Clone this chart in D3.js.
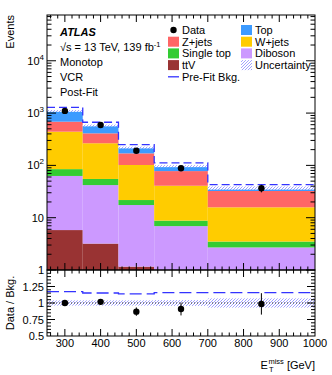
<!DOCTYPE html>
<html>
<head>
<meta charset="utf-8">
<script src="https://cdn.jsdelivr.net/npm/d3@7"></script>
<style>
  body { margin: 0; background: #fff; }
  svg { font-family: "Liberation Sans", Arial, sans-serif; }
</style>
</head>
<body>
<svg width="332" height="375"></svg>
<script>
// bins in ETmiss [GeV]
const binEdges = [250, 350, 450, 550, 700, 1000]
const binCentres = [300, 400, 500, 625, 850]

// post-fit backgrounds per bin (stacked bottom -> top)
const ttV = [5.8, 3.2, 1.16, 0.5, 0.3]
const diboson = [57, 38.8, 16.3, 6.4, 2.4]
const singleTop = [22, 13, 4.3, 1.9, 0.8]
const wjets = [356, 210, 80, 32, 12.3]
const zjets = [244, 145, 68, 37, 16.6]
const topQuark = [415, 170, 50, 19, 4.6]

const dataVals = [1100, 590, 191, 88, 36.5]
const dataErr = [33, 24, 14, 9.4, 6]
const preFit = [1290, 668, 250, 112, 42.8]
const relUnc = [0.04, 0.04, 0.04, 0.045, 0.07]

const yMajor = [1, 10, 100, 1000, 10000]
const ratioTicks = [0.5, 0.75, 1, 1.25]
const xTicks = [300, 400, 500, 600, 700, 800, 900, 1000]

const seriesNames = ['ttV', 'Diboson', 'Single top', 'W+jets', 'Z+jets', 'Top']
const seriesVals = [ttV, diboson, singleTop, wjets, zjets, topQuark]
const colors = {
  'Top': '#3d9bff', 'Z+jets': '#ff6666', 'W+jets': '#ffcc00',
  'Single top': '#33cc33', 'Diboson': '#cc99ff', 'ttV': '#993333'
}
const lineBlue = '#3333ff'

const svg = d3.select('svg')
const L = 47, R = 315, T = 15, MB = 270, RB = 336

const x = d3.scaleLinear().domain([250, 1000]).range([L, R])
const y = d3.scaleLog().domain([1, 7.5e4]).range([MB, T])
const yr = d3.scaleLinear().domain([0.5, 1.5]).range([RB, MB])

const bins = binCentres.map((c, i) => {
  const row = {lo: binEdges[i], hi: binEdges[i + 1], c}
  seriesNames.forEach((n, k) => { row[n] = seriesVals[k][i] })
  row.total = d3.sum(seriesVals, s => s[i])
  return row
})

// hatch pattern
const defs = svg.append('defs')
const pat = defs.append('pattern').attr('id', 'hatch')
  .attr('patternUnits', 'userSpaceOnUse').attr('width', 3).attr('height', 3)
pat.append('rect').attr('width', 3).attr('height', 3).attr('fill', '#fff')
pat.append('path').attr('d', 'M-1,1 l2,-2 M0,3 l3,-3 M2,4 l2,-2')
  .attr('stroke', '#8a8aff').attr('stroke-width', 0.8)
defs.append('clipPath').attr('id', 'clipMain').append('rect')
  .attr('x', L).attr('y', T).attr('width', R - L).attr('height', MB - T)
defs.append('clipPath').attr('id', 'clipRatio').append('rect')
  .attr('x', L).attr('y', MB).attr('width', R - L).attr('height', RB - MB)

// ---- main panel
const main = svg.append('g').attr('clip-path', 'url(#clipMain)')
const stack = d3.stack().keys(seriesNames)(bins)
main.selectAll('g.layer').data(stack).join('g')
  .attr('fill', d => colors[d.key])
  .selectAll('rect').data(d => d).join('rect')
  .attr('x', d => x(d.data.lo))
  .attr('width', d => x(d.data.hi) - x(d.data.lo))
  .attr('y', d => y(Math.max(d[1], 0.01)))
  .attr('height', d => y(Math.max(d[0], 0.01)) - y(Math.max(d[1], 0.01)))

main.selectAll('rect.unc').data(bins).join('rect')
  .attr('x', d => x(d.lo)).attr('width', d => x(d.hi) - x(d.lo))
  .attr('y', (d, i) => y(d.total * (1 + relUnc[i])))
  .attr('height', (d, i) => y(d.total * (1 - relUnc[i])) - y(d.total * (1 + relUnc[i])))
  .attr('fill', 'url(#hatch)')

const stepPts = vals => bins.flatMap((b, i) => [[b.lo, vals[i]], [b.hi, vals[i]]])
main.append('path')
  .attr('d', d3.line().x(d => x(d[0])).y(d => y(d[1]))(stepPts(preFit)))
  .attr('fill', 'none').attr('stroke', lineBlue).attr('stroke-width', 1.3)
  .attr('stroke-dasharray', '8,4')

main.selectAll('line.err').data(bins).join('line')
  .attr('x1', d => x(d.c)).attr('x2', d => x(d.c))
  .attr('y1', (d, i) => y(dataVals[i] + dataErr[i]))
  .attr('y2', (d, i) => y(dataVals[i] - dataErr[i]))
  .attr('stroke', '#000')
main.selectAll('circle.data').data(bins).join('circle')
  .attr('cx', d => x(d.c)).attr('cy', (d, i) => y(dataVals[i])).attr('r', 3.2)

// ---- ratio panel
const rat = svg.append('g').attr('clip-path', 'url(#clipRatio)')
rat.selectAll('rect.unc').data(bins).join('rect')
  .attr('x', d => x(d.lo)).attr('width', d => x(d.hi) - x(d.lo))
  .attr('y', (d, i) => yr(1 + relUnc[i]))
  .attr('height', (d, i) => yr(1 - relUnc[i]) - yr(1 + relUnc[i]))
  .attr('fill', 'url(#hatch)')
rat.append('line').attr('x1', L).attr('x2', R).attr('y1', yr(1)).attr('y2', yr(1))
  .attr('stroke', '#333').attr('stroke-dasharray', '1,2')
rat.append('path')
  .attr('d', d3.line().x(d => x(d[0])).y(d => yr(d[1]))(stepPts(preFit.map((v, i) => v / bins[i].total))))
  .attr('fill', 'none').attr('stroke', lineBlue).attr('stroke-width', 1.3)
  .attr('stroke-dasharray', '12,5')
rat.selectAll('line.err').data(bins).join('line')
  .attr('x1', d => x(d.c)).attr('x2', d => x(d.c))
  .attr('y1', (d, i) => yr((dataVals[i] + dataErr[i]) / d.total))
  .attr('y2', (d, i) => yr((dataVals[i] - dataErr[i]) / d.total))
  .attr('stroke', '#000')
rat.selectAll('circle').data(bins).join('circle')
  .attr('cx', d => x(d.c)).attr('cy', (d, i) => yr(dataVals[i] / d.total)).attr('r', 3.2)

// ---- frames and ticks
const axes = svg.append('g').attr('stroke', '#000').attr('fill', 'none')
axes.append('rect').attr('x', L).attr('y', T).attr('width', R - L).attr('height', MB - T)
axes.append('rect').attr('x', L).attr('y', MB).attr('width', R - L).attr('height', RB - MB)

const xMinor = d3.range(260, 1000, 20)
const tick = (x1, y1, x2, y2) => axes.append('line')
  .attr('x1', x1).attr('y1', y1).attr('x2', x2).attr('y2', y2)
;[[T, 1], [MB, -1], [MB, 1], [RB, -1]].forEach(([yy, dir]) => {
  xMinor.forEach(v => {
    const len = xTicks.includes(v) ? 7 : 3.5
    tick(x(v), yy, x(v), yy + dir * len)
  })
})

y.ticks().forEach(v => {
  const major = yMajor.includes(v)
  const len = major ? 9 : 4.5
  tick(L, y(v), L + len, y(v))
  tick(R, y(v), R - len, y(v))
})
d3.range(0.55, 1.5, 0.05).forEach(v => {
  const major = Math.abs(v * 4 - Math.round(v * 4)) < 1e-6
  const len = major ? 8 : 4
  tick(L, yr(v), L + len, yr(v))
  tick(R, yr(v), R - len, yr(v))
})

// ---- labels
const txt = svg.append('g').attr('font-size', 11).attr('fill', '#000')
yMajor.forEach(v => {
  const t = txt.append('text').attr('x', L - 3).attr('y', y(v) + 4).attr('text-anchor', 'end')
  if (v < 100) t.text(v)
  else {
    t.append('tspan').text('10')
    t.append('tspan').attr('dy', -5).attr('font-size', 8).text(Math.log10(v))
  }
})
ratioTicks.forEach(v => {
  txt.append('text').attr('x', L - 3).attr('y', yr(v) + 4).attr('text-anchor', 'end').text(v)
})
xTicks.forEach(v => {
  txt.append('text').attr('x', x(v)).attr('y', 347).attr('text-anchor', 'middle').text(v)
})

txt.append('text').attr('transform', `translate(14,${T}) rotate(-90)`)
  .attr('text-anchor', 'end').text('Events')
txt.append('text').attr('transform', `translate(14,${(MB + RB) / 2}) rotate(-90)`)
  .attr('text-anchor', 'middle').text('Data / Bkg.')

const xt = txt.append('text').attr('x', R).attr('y', 369).attr('text-anchor', 'end').text('[GeV]')
const gevW = xt.node().getComputedTextLength()
const sx = R - gevW - 3
txt.append('text').attr('x', sx).attr('y', 364).attr('text-anchor', 'end').attr('font-size', 7.5).text('miss')
txt.append('text').attr('x', sx - 15).attr('y', 372).attr('text-anchor', 'start').attr('font-size', 7.5).text('T')
txt.append('text').attr('x', sx - 16).attr('y', 369).attr('text-anchor', 'end').text('E')

txt.append('text').attr('x', 60).attr('y', 36).attr('font-weight', 'bold')
  .attr('font-style', 'italic').text('ATLAS')
const rs = txt.append('text').attr('x', 60).attr('y', 51)
rs.append('tspan').text('√s = 13 TeV, 139 fb')
rs.append('tspan').attr('dy', -4).attr('font-size', 7.5).text('-1')
txt.append('text').attr('x', 60).attr('y', 66).text('Monotop')
txt.append('text').attr('x', 60).attr('y', 81).text('VCR')
txt.append('text').attr('x', 60).attr('y', 96).text('Post-Fit')

// ---- legend
const legCol1 = [
  {name: 'Data', kind: 'dot'}, {name: 'Z+jets', kind: 'box'},
  {name: 'Single top', kind: 'box'}, {name: 'ttV', kind: 'box'},
  {name: 'Pre-Fit Bkg.', kind: 'line'}
]
const legCol2 = [
  {name: 'Top', kind: 'box'}, {name: 'W+jets', kind: 'box'},
  {name: 'Diboson', kind: 'box'}, {name: 'Uncertainty', kind: 'hatch'}
]
const leg = svg.append('g').attr('font-size', 11)
;[[legCol1, 168], [legCol2, 241]].forEach(([items, x0]) => {
  items.forEach((it, i) => {
    const cy = 30 + i * 11.7
    if (it.kind === 'dot') leg.append('circle').attr('cx', x0 + 5.5).attr('cy', cy).attr('r', 3.2)
    else if (it.kind === 'line') leg.append('line').attr('x1', x0).attr('x2', x0 + 11)
      .attr('y1', cy).attr('y2', cy).attr('stroke', lineBlue).attr('stroke-width', 1.3)
    else leg.append('rect').attr('x', x0).attr('y', cy - 5).attr('width', 11).attr('height', 10)
      .attr('fill', it.kind === 'hatch' ? 'url(#hatch)' : colors[it.name])
    leg.append('text').attr('x', x0 + 14).attr('y', cy + 4).text(it.name)
  })
})
</script>
</body>
</html>
